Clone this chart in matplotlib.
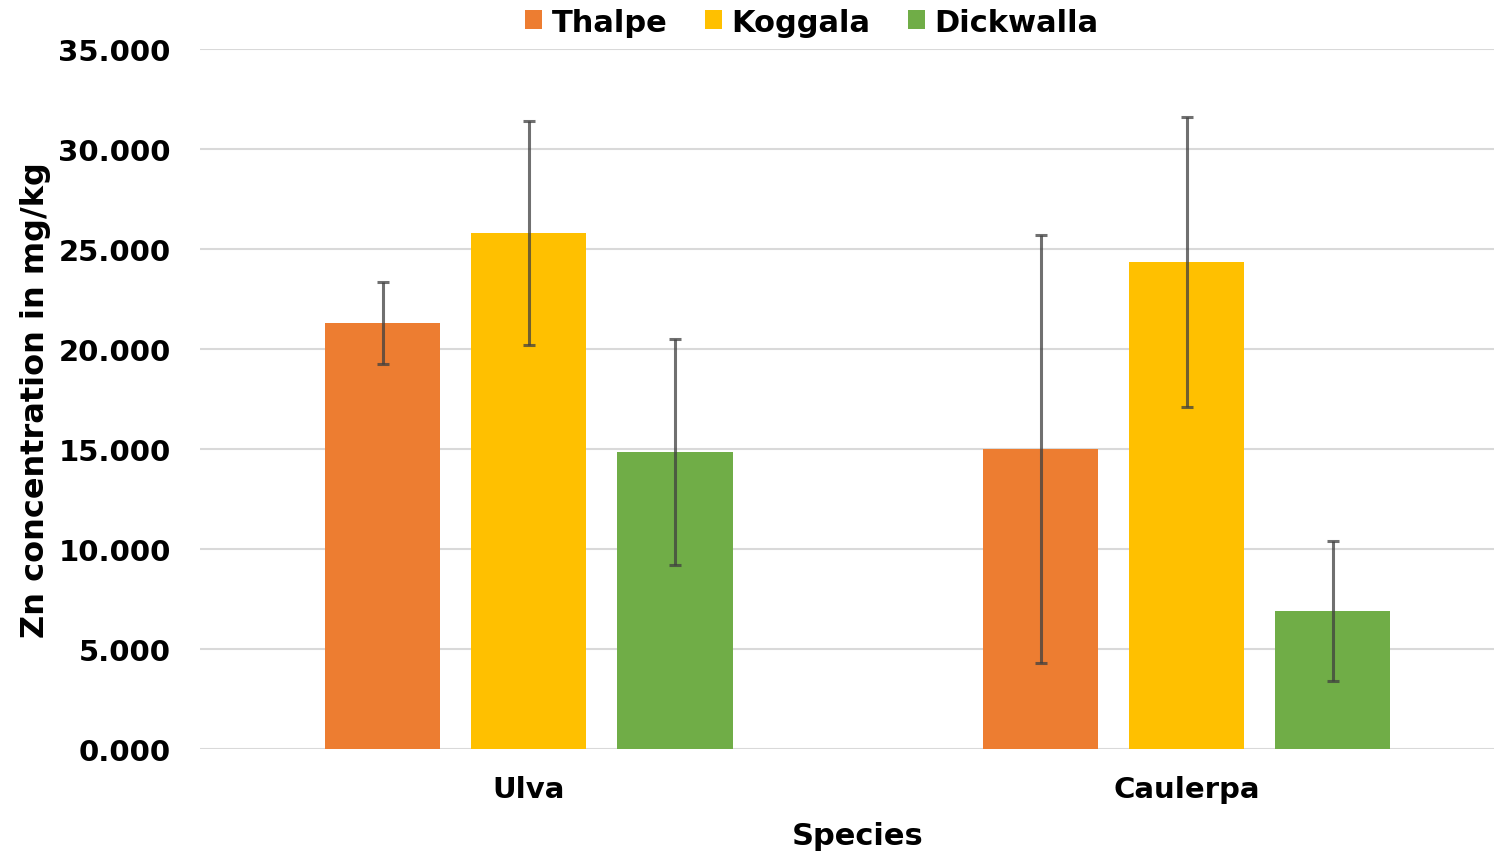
import numpy as np
import matplotlib.pyplot as plt
from matplotlib.ticker import FormatStrFormatter

# data
species = ["Ulva", "Caulerpa"]
sites = ["Thalpe", "Koggala", "Dickwalla"]
colors = ["#ED7D31", "#FFC000", "#70AD47"]
means = {
    "Thalpe": [21.3, 15.0],
    "Koggala": [25.8, 24.35],
    "Dickwalla": [14.85, 6.9],
}
errs = {
    "Thalpe": [2.03, 10.7],
    "Koggala": [5.62, 7.25],
    "Dickwalla": [5.67, 3.48],
}

plt.rcParams['font.family'] = ['DejaVu Sans']
plt.rcParams['font.weight'] = 'bold'

fig = plt.figure(figsize=(14.94, 8.53), dpi=100)
ax = fig.add_axes([200 / 1494, 103 / 853, 1294 / 1494, 700 / 853])

x = np.arange(len(species))
w = 0.175
step = 0.222
for i, s in enumerate(sites):
    ax.bar(x + (i - 1) * step, means[s], width=w, color=colors[i], label=s, zorder=2)
    ax.errorbar(x + (i - 1) * step, means[s], yerr=errs[s], fmt='none',
                ecolor='#404040', alpha=0.75, elinewidth=2.2, capsize=4.3,
                capthick=2.2, zorder=3)

ax.set_xlim(-0.5, 1.467)
ax.set_ylim(0, 35)
ax.set_yticks(np.arange(0, 36, 5))
ax.yaxis.set_major_formatter(FormatStrFormatter('%.3f'))
ax.set_xticks(x)
ax.set_xticklabels(species)
ax.tick_params(axis='both', length=0, labelsize=21)
ax.tick_params(axis='x', pad=19)
ax.tick_params(axis='y', pad=21)
ax.grid(axis='y', color='#d9d9d9', linewidth=1.5, zorder=0)
for sp in ax.spines.values():
    sp.set_visible(False)

ax.set_xlabel("Species", fontsize=22, fontweight='bold', labelpad=13)
ax.xaxis.label.set_x(0.5085)
ax.set_ylabel("Zn concentration in mg/kg", fontsize=23, fontweight='bold', labelpad=5)

fig.legend(loc='center', bbox_to_anchor=(812 / 1494, 1 - 23 / 853), ncol=3, frameon=False,
           fontsize=22, handlelength=0.55, handleheight=0.55, handletextpad=0.3,
           columnspacing=1.25, borderaxespad=0)

fig.savefig("out.png", dpi=100)
